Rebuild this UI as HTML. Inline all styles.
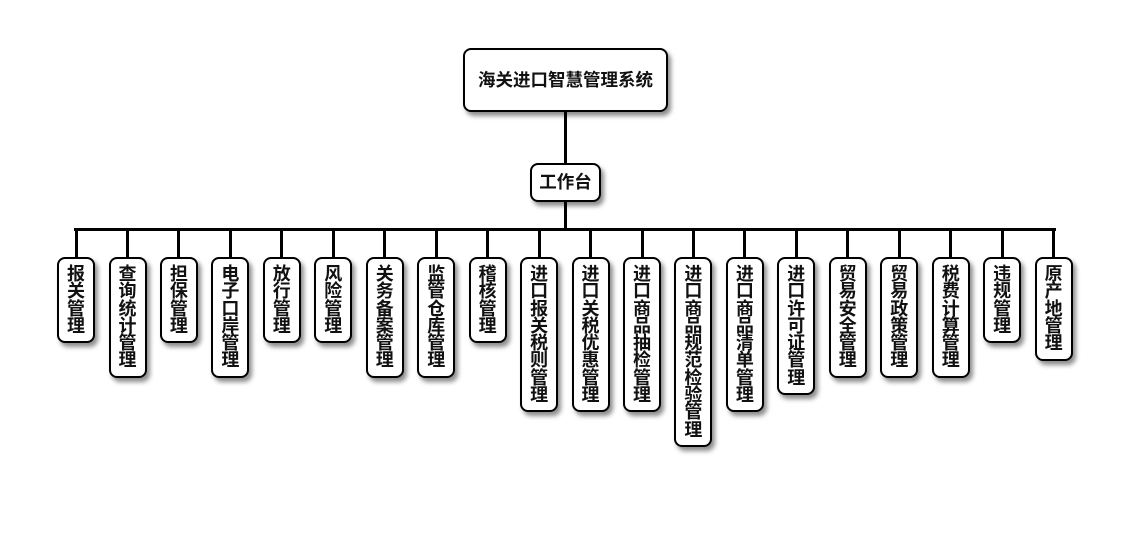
<!DOCTYPE html>
<html><head><meta charset="utf-8"><style>
html,body{margin:0;padding:0;background:#fff;}
body{width:1130px;height:560px;position:relative;overflow:hidden;font-family:"Liberation Sans","Noto Sans CJK SC",sans-serif;}
.b{position:absolute;box-sizing:border-box;background:#fff;border:2px solid #000;border-radius:8px;box-shadow:3px 4px 5px rgba(0,0,0,0.45);color:#111;font-weight:bold;text-align:center;}
.l{position:absolute;background:#000;}
.leaf{top:257px;width:38px;font-size:18px;line-height:17.3px;padding-top:7px;}
</style></head><body>
<div class="l" style="left:563.5px;top:110px;width:3px;height:55px;"></div>
<div class="l" style="left:563.5px;top:200px;width:3px;height:30px;"></div>
<div class="l" style="left:74px;top:227.5px;width:982px;height:3.5px;"></div>

<div class="b" style="left:463px;top:48px;width:205px;height:64px;font-size:17.5px;line-height:60px;">海关进口智慧管理系统</div>
<div class="b" style="left:530px;top:163px;width:71px;height:39px;font-size:17.5px;line-height:35px;">工作台</div>

<div class="l" style="left:74.5px;top:229px;width:3px;height:29px;"></div>
<div class="l" style="left:126px;top:229px;width:3px;height:29px;"></div>
<div class="l" style="left:177.4px;top:229px;width:3px;height:29px;"></div>
<div class="l" style="left:228.9px;top:229px;width:3px;height:29px;"></div>
<div class="l" style="left:280.3px;top:229px;width:3px;height:29px;"></div>
<div class="l" style="left:331.8px;top:229px;width:3px;height:29px;"></div>
<div class="l" style="left:383.2px;top:229px;width:3px;height:29px;"></div>
<div class="l" style="left:434.7px;top:229px;width:3px;height:29px;"></div>
<div class="l" style="left:486.1px;top:229px;width:3px;height:29px;"></div>
<div class="l" style="left:537.6px;top:229px;width:3px;height:29px;"></div>
<div class="l" style="left:589px;top:229px;width:3px;height:29px;"></div>
<div class="l" style="left:640.5px;top:229px;width:3px;height:29px;"></div>
<div class="l" style="left:691.9px;top:229px;width:3px;height:29px;"></div>
<div class="l" style="left:743.4px;top:229px;width:3px;height:29px;"></div>
<div class="l" style="left:794.8px;top:229px;width:3px;height:29px;"></div>
<div class="l" style="left:846.3px;top:229px;width:3px;height:29px;"></div>
<div class="l" style="left:897.7px;top:229px;width:3px;height:29px;"></div>
<div class="l" style="left:949.2px;top:229px;width:3px;height:29px;"></div>
<div class="l" style="left:1000.6px;top:229px;width:3px;height:29px;"></div>
<div class="l" style="left:1052.1px;top:229px;width:3px;height:29px;"></div>

<div class="b leaf" style="left:57px;height:86px;">报<br>关<br>管<br>理</div>
<div class="b leaf" style="left:108.5px;height:121px;">查<br>询<br>统<br>计<br>管<br>理</div>
<div class="b leaf" style="left:159.9px;height:86px;">担<br>保<br>管<br>理</div>
<div class="b leaf" style="left:211.4px;height:121px;">电<br>子<br>口<br>岸<br>管<br>理</div>
<div class="b leaf" style="left:262.8px;height:86px;">放<br>行<br>管<br>理</div>
<div class="b leaf" style="left:314.3px;height:86px;">风<br>险<br>管<br>理</div>
<div class="b leaf" style="left:365.7px;height:121px;">关<br>务<br>备<br>案<br>管<br>理</div>
<div class="b leaf" style="left:417.2px;height:121px;">监<br>管<br>仓<br>库<br>管<br>理</div>
<div class="b leaf" style="left:468.6px;height:86px;">稽<br>核<br>管<br>理</div>
<div class="b leaf" style="left:520.1px;height:155px;">进<br>口<br>报<br>关<br>税<br>则<br>管<br>理</div>
<div class="b leaf" style="left:571.5px;height:155px;">进<br>口<br>关<br>税<br>优<br>惠<br>管<br>理</div>
<div class="b leaf" style="left:623px;height:155px;">进<br>口<br>商<br>品<br>抽<br>检<br>管<br>理</div>
<div class="b leaf" style="left:674.4px;height:190px;">进<br>口<br>商<br>品<br>规<br>范<br>检<br>验<br>管<br>理</div>
<div class="b leaf" style="left:725.9px;height:155px;">进<br>口<br>商<br>品<br>清<br>单<br>管<br>理</div>
<div class="b leaf" style="left:777.3px;height:138px;">进<br>口<br>许<br>可<br>证<br>管<br>理</div>
<div class="b leaf" style="left:828.8px;height:121px;">贸<br>易<br>安<br>全<br>管<br>理</div>
<div class="b leaf" style="left:880.2px;height:121px;">贸<br>易<br>政<br>策<br>管<br>理</div>
<div class="b leaf" style="left:931.7px;height:121px;">税<br>费<br>计<br>算<br>管<br>理</div>
<div class="b leaf" style="left:983.1px;height:86px;">违<br>规<br>管<br>理</div>
<div class="b leaf" style="left:1034.6px;height:104px;">原<br>产<br>地<br>管<br>理</div>
</body></html>
